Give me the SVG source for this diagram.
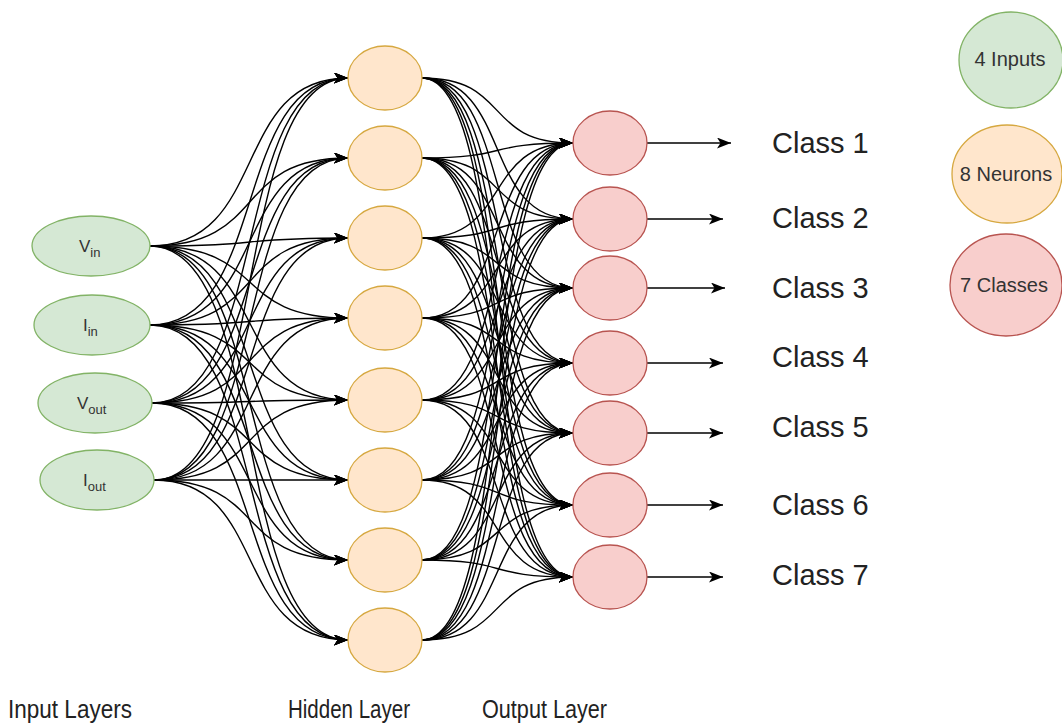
<svg xmlns="http://www.w3.org/2000/svg" width="1062" height="724" viewBox="0 0 1062 724">
<style>
.in{fill:#d5e8d4;stroke:#82b366;stroke-width:1.3}
.hid{fill:#ffe6cc;stroke:#d6a840;stroke-width:1.3}
.out{fill:#f8cecc;stroke:#b85450;stroke-width:1.3}
.e{fill:none;stroke:#000;stroke-width:1.4;marker-end:url(#arr)}
.lbl{font-family:"Liberation Sans",Arial,sans-serif;fill:#333;font-size:17px}
.leg{font-family:"Liberation Sans",Arial,sans-serif;fill:#333;font-size:20px}
.cls{font-family:"Liberation Sans",Arial,sans-serif;fill:#222;font-size:29px}
.lay{font-family:"Liberation Sans",Arial,sans-serif;fill:#222;font-size:26px}
</style>
<defs>
<marker id="arr" markerUnits="userSpaceOnUse" markerWidth="15" markerHeight="12" refX="14" refY="5.5" orient="auto">
<path d="M0,0 L14,5.5 L0,11 L3.5,5.5 Z" fill="#000"/>
</marker>
</defs>
<rect width="1062" height="724" fill="#fff"/>
<g id="connectors">
<path class="e" d="M150,246 C270,246 230,78 348,78"/>
<path class="e" d="M150,246 C270,246 230,158 348,158"/>
<path class="e" d="M150,246 C270,246 230,238 348,238"/>
<path class="e" d="M150,246 C270,246 230,318 348,318"/>
<path class="e" d="M150,246 C270,246 230,400 348,400"/>
<path class="e" d="M150,246 C270,246 230,480 348,480"/>
<path class="e" d="M150,246 C270,246 230,560 348,560"/>
<path class="e" d="M150,246 C270,246 230,640 348,640"/>
<path class="e" d="M150,325 C270,325 230,78 348,78"/>
<path class="e" d="M150,325 C270,325 230,158 348,158"/>
<path class="e" d="M150,325 C270,325 230,238 348,238"/>
<path class="e" d="M150,325 C270,325 230,318 348,318"/>
<path class="e" d="M150,325 C270,325 230,400 348,400"/>
<path class="e" d="M150,325 C270,325 230,480 348,480"/>
<path class="e" d="M150,325 C270,325 230,560 348,560"/>
<path class="e" d="M150,325 C270,325 230,640 348,640"/>
<path class="e" d="M152,403 C270,403 230,78 348,78"/>
<path class="e" d="M152,403 C270,403 230,158 348,158"/>
<path class="e" d="M152,403 C270,403 230,238 348,238"/>
<path class="e" d="M152,403 C270,403 230,318 348,318"/>
<path class="e" d="M152,403 C270,403 230,400 348,400"/>
<path class="e" d="M152,403 C270,403 230,480 348,480"/>
<path class="e" d="M152,403 C270,403 230,560 348,560"/>
<path class="e" d="M152,403 C270,403 230,640 348,640"/>
<path class="e" d="M154,480 C270,480 230,78 348,78"/>
<path class="e" d="M154,480 C270,480 230,158 348,158"/>
<path class="e" d="M154,480 C270,480 230,238 348,238"/>
<path class="e" d="M154,480 C270,480 230,318 348,318"/>
<path class="e" d="M154,480 C270,480 230,400 348,400"/>
<path class="e" d="M154,480 C270,480 230,480 348,480"/>
<path class="e" d="M154,480 C270,480 230,560 348,560"/>
<path class="e" d="M154,480 C270,480 230,640 348,640"/>

<path class="e" d="M422,78 C512,78 482,143 573,143"/>
<path class="e" d="M422,78 C512,78 482,219 573,219"/>
<path class="e" d="M422,78 C512,78 482,288 573,288"/>
<path class="e" d="M422,78 C512,78 482,363 573,363"/>
<path class="e" d="M422,78 C512,78 482,433 573,433"/>
<path class="e" d="M422,78 C512,78 482,505 573,505"/>
<path class="e" d="M422,78 C512,78 482,577 573,577"/>
<path class="e" d="M422,158 C512,158 482,143 573,143"/>
<path class="e" d="M422,158 C512,158 482,219 573,219"/>
<path class="e" d="M422,158 C512,158 482,288 573,288"/>
<path class="e" d="M422,158 C512,158 482,363 573,363"/>
<path class="e" d="M422,158 C512,158 482,433 573,433"/>
<path class="e" d="M422,158 C512,158 482,505 573,505"/>
<path class="e" d="M422,158 C512,158 482,577 573,577"/>
<path class="e" d="M422,238 C512,238 482,143 573,143"/>
<path class="e" d="M422,238 C512,238 482,219 573,219"/>
<path class="e" d="M422,238 C512,238 482,288 573,288"/>
<path class="e" d="M422,238 C512,238 482,363 573,363"/>
<path class="e" d="M422,238 C512,238 482,433 573,433"/>
<path class="e" d="M422,238 C512,238 482,505 573,505"/>
<path class="e" d="M422,238 C512,238 482,577 573,577"/>
<path class="e" d="M422,318 C512,318 482,143 573,143"/>
<path class="e" d="M422,318 C512,318 482,219 573,219"/>
<path class="e" d="M422,318 C512,318 482,288 573,288"/>
<path class="e" d="M422,318 C512,318 482,363 573,363"/>
<path class="e" d="M422,318 C512,318 482,433 573,433"/>
<path class="e" d="M422,318 C512,318 482,505 573,505"/>
<path class="e" d="M422,318 C512,318 482,577 573,577"/>
<path class="e" d="M422,400 C512,400 482,143 573,143"/>
<path class="e" d="M422,400 C512,400 482,219 573,219"/>
<path class="e" d="M422,400 C512,400 482,288 573,288"/>
<path class="e" d="M422,400 C512,400 482,363 573,363"/>
<path class="e" d="M422,400 C512,400 482,433 573,433"/>
<path class="e" d="M422,400 C512,400 482,505 573,505"/>
<path class="e" d="M422,400 C512,400 482,577 573,577"/>
<path class="e" d="M422,480 C512,480 482,143 573,143"/>
<path class="e" d="M422,480 C512,480 482,219 573,219"/>
<path class="e" d="M422,480 C512,480 482,288 573,288"/>
<path class="e" d="M422,480 C512,480 482,363 573,363"/>
<path class="e" d="M422,480 C512,480 482,433 573,433"/>
<path class="e" d="M422,480 C512,480 482,505 573,505"/>
<path class="e" d="M422,480 C512,480 482,577 573,577"/>
<path class="e" d="M422,560 C512,560 482,143 573,143"/>
<path class="e" d="M422,560 C512,560 482,219 573,219"/>
<path class="e" d="M422,560 C512,560 482,288 573,288"/>
<path class="e" d="M422,560 C512,560 482,363 573,363"/>
<path class="e" d="M422,560 C512,560 482,433 573,433"/>
<path class="e" d="M422,560 C512,560 482,505 573,505"/>
<path class="e" d="M422,560 C512,560 482,577 573,577"/>
<path class="e" d="M422,640 C512,640 482,143 573,143"/>
<path class="e" d="M422,640 C512,640 482,219 573,219"/>
<path class="e" d="M422,640 C512,640 482,288 573,288"/>
<path class="e" d="M422,640 C512,640 482,363 573,363"/>
<path class="e" d="M422,640 C512,640 482,433 573,433"/>
<path class="e" d="M422,640 C512,640 482,505 573,505"/>
<path class="e" d="M422,640 C512,640 482,577 573,577"/>

<path class="e" d="M647,143 L731,143"/>
<path class="e" d="M647,219 L723,219"/>
<path class="e" d="M647,288 L725,288"/>
<path class="e" d="M647,363 L723,363"/>
<path class="e" d="M647,433 L723,433"/>
<path class="e" d="M647,505 L723,505"/>
<path class="e" d="M647,577 L723,577"/>
</g>

<g id="in-vin"><ellipse class="in" cx="91" cy="246" rx="59" ry="30"/><text class="lbl" x="79" y="252">V<tspan dy="5" font-size="13">in</tspan></text></g>
<g id="in-iin"><ellipse class="in" cx="92" cy="325" rx="58" ry="30"/><text class="lbl" x="83" y="331">I<tspan dy="5" font-size="13">in</tspan></text></g>
<g id="in-vout"><ellipse class="in" cx="95" cy="403" rx="57" ry="30"/><text class="lbl" x="77" y="409">V<tspan dy="5" font-size="13">out</tspan></text></g>
<g id="in-iout"><ellipse class="in" cx="97" cy="480" rx="57" ry="30"/><text class="lbl" x="83" y="486">I<tspan dy="5" font-size="13">out</tspan></text></g>

<g id="h1"><ellipse class="hid" cx="385" cy="78" rx="37" ry="32"/></g>
<g id="h2"><ellipse class="hid" cx="385" cy="158" rx="37" ry="32"/></g>
<g id="h3"><ellipse class="hid" cx="385" cy="238" rx="37" ry="32"/></g>
<g id="h4"><ellipse class="hid" cx="385" cy="318" rx="37" ry="32"/></g>
<g id="h5"><ellipse class="hid" cx="385" cy="400" rx="37" ry="32"/></g>
<g id="h6"><ellipse class="hid" cx="385" cy="480" rx="37" ry="32"/></g>
<g id="h7"><ellipse class="hid" cx="385" cy="560" rx="37" ry="32"/></g>
<g id="h8"><ellipse class="hid" cx="385" cy="640" rx="37" ry="32"/></g>

<g id="o1"><ellipse class="out" cx="610" cy="143" rx="37" ry="32"/></g>
<g id="o2"><ellipse class="out" cx="610" cy="219" rx="37" ry="32"/></g>
<g id="o3"><ellipse class="out" cx="610" cy="288" rx="37" ry="32"/></g>
<g id="o4"><ellipse class="out" cx="610" cy="363" rx="37" ry="32"/></g>
<g id="o5"><ellipse class="out" cx="610" cy="433" rx="37" ry="32"/></g>
<g id="o6"><ellipse class="out" cx="610" cy="505" rx="37" ry="32"/></g>
<g id="o7"><ellipse class="out" cx="610" cy="577" rx="37" ry="32"/></g>

<g id="class-labels">
<text class="cls" x="772" y="153">Class 1</text>
<text class="cls" x="772" y="228">Class 2</text>
<text class="cls" x="772" y="298">Class 3</text>
<text class="cls" x="772" y="367">Class 4</text>
<text class="cls" x="772" y="437">Class 5</text>
<text class="cls" x="772" y="515">Class 6</text>
<text class="cls" x="772" y="585">Class 7</text>
</g>

<g id="layer-labels">
<text class="lay" x="8" y="718" textLength="124" lengthAdjust="spacingAndGlyphs">Input Layers</text>
<text class="lay" x="288" y="718" textLength="122" lengthAdjust="spacingAndGlyphs">Hidden Layer</text>
<text class="lay" x="482" y="718" textLength="125" lengthAdjust="spacingAndGlyphs">Output Layer</text>
</g>

<g id="legend-inputs"><ellipse class="in" cx="1011" cy="60" rx="52" ry="48"/><text class="leg" x="1010" y="66" text-anchor="middle">4 Inputs</text></g>
<g id="legend-neurons"><ellipse class="hid" cx="1007" cy="174" rx="55" ry="49"/><text class="leg" x="1006" y="181" text-anchor="middle">8 Neurons</text></g>
<g id="legend-classes"><ellipse class="out" cx="1006" cy="285" rx="56" ry="51"/><text class="leg" x="1004" y="292" text-anchor="middle">7 Classes</text></g>
</svg>
